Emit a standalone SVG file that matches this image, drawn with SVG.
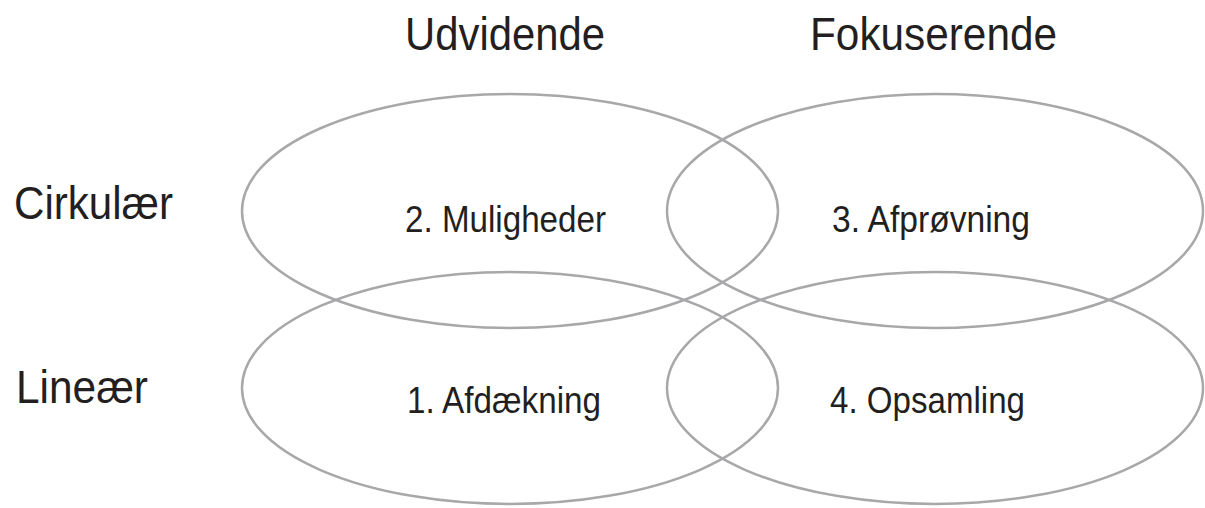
<svg xmlns="http://www.w3.org/2000/svg" width="1205" height="508" viewBox="0 0 1205 508">
<style>
.ring{fill:none;stroke:#a8a8aa;stroke-width:2.5}
.hd{font-family:"Liberation Sans",Arial,sans-serif;font-size:46px;fill:#231f20}
.lb{font-family:"Liberation Sans",Arial,sans-serif;font-size:36px;fill:#231f20}
</style>
<rect width="1205" height="508" fill="#fff"/>
<g id="headers">
<text class="hd" x="405" y="50" textLength="200" lengthAdjust="spacingAndGlyphs">Udvidende</text>
<text class="hd" x="810" y="50" textLength="247" lengthAdjust="spacingAndGlyphs">Fokuserende</text>
<text class="hd" x="14" y="219" textLength="159" lengthAdjust="spacingAndGlyphs">Cirkulær</text>
<text class="hd" x="16" y="403" textLength="132" lengthAdjust="spacingAndGlyphs">Lineær</text>
</g>
<g id="node-2">
<ellipse class="ring" cx="510" cy="211" rx="268" ry="117"/>
<text class="lb" x="405" y="232" textLength="201" lengthAdjust="spacingAndGlyphs">2. Muligheder</text>
</g>
<g id="node-3">
<ellipse class="ring" cx="935" cy="211" rx="268" ry="117"/>
<text class="lb" x="832" y="232" textLength="198" lengthAdjust="spacingAndGlyphs">3. Afprøvning</text>
</g>
<g id="node-1">
<ellipse class="ring" cx="510" cy="388" rx="268" ry="116"/>
<text class="lb" x="407" y="413" textLength="194" lengthAdjust="spacingAndGlyphs">1. Afdækning</text>
</g>
<g id="node-4">
<ellipse class="ring" cx="935" cy="388" rx="268" ry="116"/>
<text class="lb" x="830" y="413" textLength="195" lengthAdjust="spacingAndGlyphs">4. Opsamling</text>
</g>
<g id="connectors"/>
</svg>
